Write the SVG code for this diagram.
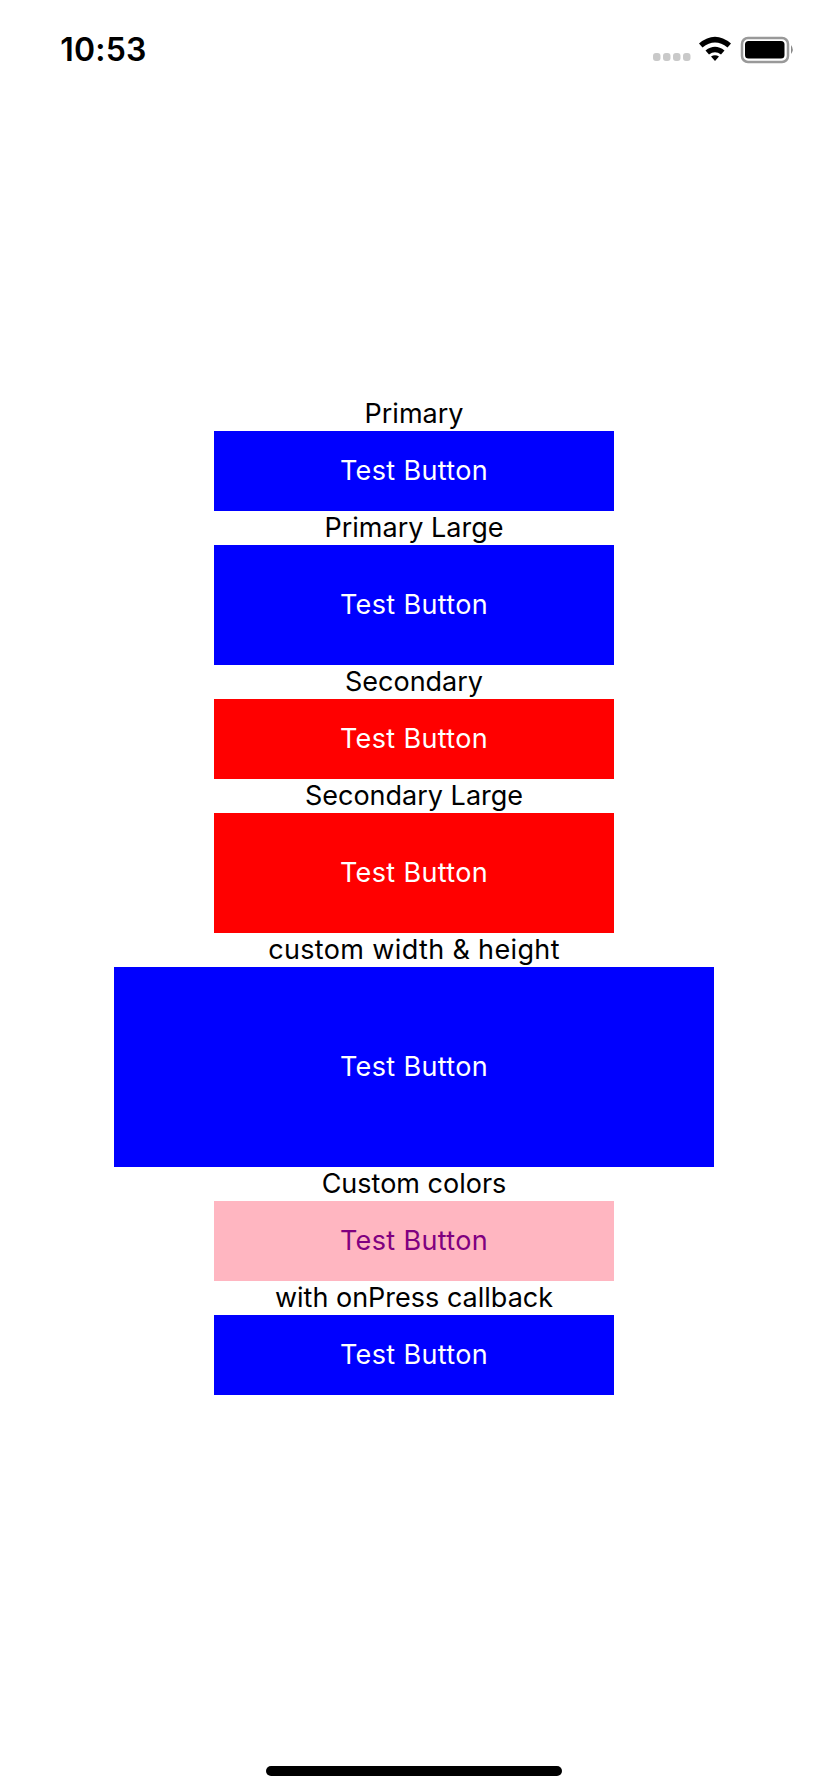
<svg xmlns="http://www.w3.org/2000/svg" width="828" height="1792" viewBox="0 0 828 1792">
<style>
text{font-family:Inter,"Noto Sans","Liberation Sans",sans-serif;font-size:27px;text-anchor:middle}
.l{fill:#000}.b{fill:#fff}.s{letter-spacing:.36px}
.blue{fill:#00f}.red{fill:#f00}.pink{fill:#ffb6c1}
.d{fill:#c9c9c9}
</style>
<rect width="828" height="1792" fill="#fff"/>
<g id="status-bar">
<text x="103.500" y="61" style="font-size:32px;font-weight:600;letter-spacing:.2px">10:53</text>
<rect class="d" x="653" y="53" width="7.500" height="8" rx="3"/>
<rect class="d" x="663" y="53" width="7.500" height="8" rx="3"/>
<rect class="d" x="673" y="53" width="7.500" height="8" rx="3"/>
<rect class="d" x="683" y="53" width="7.500" height="8" rx="3"/>
<path d="M699 43.500Q715 30 731 43.500L727.500 47.500Q715 37.500 702.500 47.500Z M705.500 50.500Q715 43 724.500 50.500L721 54.500Q715 50 709 54.500Z M711 56.500Q715 54 719 56.500L715 61Z" fill="#000"/>
<rect x="742" y="38" width="46" height="24" rx="6" fill="none" stroke="#999" stroke-width="2.500"/>
<rect x="745" y="41" width="39.500" height="17.500" rx="3.500" fill="#000"/>
<path d="M791 45Q794.500 49.500 791 54Z" fill="#888"/>
</g>
<g id="primary">
<text class="l" x="414" y="423">Primary</text>
<rect class="blue" x="214" y="431" width="400" height="80"/>
<text class="b s" x="414" y="480">Test Button</text>
</g>
<g id="primary-large">
<text class="l" x="414" y="537">Primary Large</text>
<rect class="blue" x="214" y="545" width="400" height="120"/>
<text class="b s" x="414" y="614">Test Button</text>
</g>
<g id="secondary">
<text class="l" x="414" y="691">Secondary</text>
<rect class="red" x="214" y="699" width="400" height="80"/>
<text class="b s" x="414" y="748">Test Button</text>
</g>
<g id="secondary-large">
<text class="l" x="414" y="805">Secondary Large</text>
<rect class="red" x="214" y="813" width="400" height="120"/>
<text class="b s" x="414" y="882">Test Button</text>
</g>
<g id="custom-size">
<text class="l s" x="414" y="959">custom width &amp; height</text>
<rect class="blue" x="114" y="967" width="600" height="200"/>
<text class="b s" x="414" y="1076">Test Button</text>
</g>
<g id="custom-colors">
<text class="l" x="414" y="1193">Custom colors</text>
<rect class="pink" x="214" y="1201" width="400" height="80"/>
<text class="s" x="414" y="1250" fill="#800080">Test Button</text>
</g>
<g id="on-press">
<text class="l" x="414" y="1307">with onPress callback</text>
<rect class="blue" x="214" y="1315" width="400" height="80"/>
<text class="b s" x="414" y="1364">Test Button</text>
</g>
<rect id="home-indicator" x="266" y="1766" width="296" height="10" rx="5" fill="#000"/>
<g id="connectors"/>
</svg>
